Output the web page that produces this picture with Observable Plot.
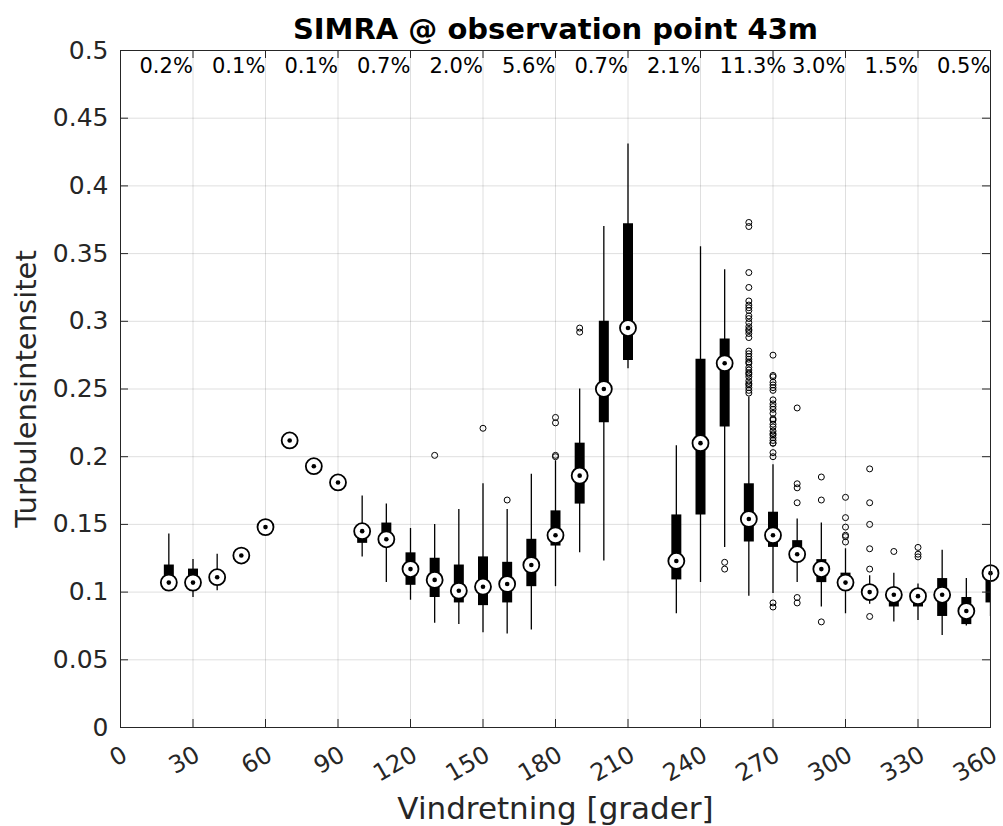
<!DOCTYPE html>
<html>
<head>
<meta charset="utf-8">
<script src="https://cdn.jsdelivr.net/npm/d3@7"></script>
<script src="https://cdn.jsdelivr.net/npm/@observablehq/plot@0.6"></script>
<style>
  html, body { margin: 0; padding: 0; background: white; }
  #chart svg { display: block; }
</style>
</head>
<body>
<div id="chart"></div>
<script>
const directions = [20,30,40,50,60,70,80,90,100,110,120,130,140,150,160,170,180,190,200,210,230,240,250,260,270,280,290,300,310,320,330,340,350,360];
const medians = [0.107,0.107,0.111,0.127,0.148,0.212,0.193,0.181,0.145,0.139,0.117,0.109,0.101,0.104,0.106,0.120,0.142,0.186,0.250,0.295,0.123,0.210,0.269,0.154,0.142,0.128,0.117,0.107,0.100,0.098,0.097,0.098,0.086,0.114];
const q1 = [0.104,0.103,0.108,null,null,null,null,null,0.136,0.135,0.105,0.096,0.092,0.090,0.092,0.104,0.134,0.165,0.225,0.271,0.109,0.157,0.222,0.137,0.133,0.123,0.107,0.103,0.097,0.089,0.089,0.082,0.076,0.092];
const q3 = [0.120,0.117,0.114,null,null,null,null,null,0.148,0.151,0.129,0.125,0.120,0.126,0.122,0.139,0.160,0.210,0.300,0.372,0.157,0.272,0.287,0.180,0.159,0.138,0.124,0.114,0.104,0.102,0.100,0.110,0.096,0.118];
const whiskerLow = [0.102,0.096,0.101,null,null,null,null,null,0.126,0.107,0.094,0.077,0.076,0.070,0.069,0.072,0.104,0.129,0.123,0.265,0.084,0.107,0.133,0.097,0.099,0.107,0.089,0.084,0.091,0.078,0.079,0.068,0.075,0.082];
const whiskerHigh = [0.143,0.124,0.128,null,null,null,null,null,0.171,0.165,0.147,0.150,0.161,0.180,0.161,0.187,0.197,0.250,0.370,0.431,0.208,0.355,0.338,0.244,0.194,0.154,0.151,0.132,0.112,0.114,0.106,0.131,0.110,0.118];

const outlierGroups = [
  [130, [0.201]],
  [150, [0.221]],
  [160, [0.168]],
  [180, [0.200, 0.201, 0.225, 0.229]],
  [190, [0.292, 0.295]],
  [250, [0.122, 0.117]],
  [260, [0.373,0.370,0.336,0.325,0.315,0.312,0.310,0.308,0.304,0.302,0.299,0.296,0.294,0.293,0.291,0.288,0.278,0.276,0.274,0.272,0.270,0.269,0.266,0.264,0.262,0.261,0.259,0.256,0.254,0.253,0.251,0.249,0.247]],
  [270, [0.275,0.260,0.259,0.255,0.253,0.251,0.249,0.242,0.239,0.237,0.235,0.232,0.228,0.227,0.224,0.222,0.219,0.217,0.216,0.214,0.212,0.210,0.210,0.203,0.200,0.092,0.089]],
  [280, [0.236, 0.180, 0.177, 0.166, 0.096, 0.092]],
  [290, [0.185, 0.168, 0.078]],
  [300, [0.170, 0.155, 0.148, 0.142, 0.141, 0.137]],
  [310, [0.191, 0.166, 0.150, 0.132, 0.117, 0.082]],
  [320, [0.130]],
  [330, [0.133, 0.128, 0.126]]
];

const sectorStarts = [0,30,60,90,120,150,180,210,240,270,300,330];
const sectorShares = ["0.2%","0.1%","0.1%","0.7%","2.0%","5.6%","0.7%","2.1%","11.3%","3.0%","1.5%","0.5%"];

const xTicks = [0,30,60,90,120,150,180,210,240,270,300,330,360];
const yTicks = [0,0.05,0.1,0.15,0.2,0.25,0.3,0.35,0.4,0.45,0.5];

const titleText = "SIMRA @ observation point 43m";
const xLabel = "Vindretning [grader]";
const yLabel = "Turbulensintensitet";

const boxes = directions.map((d, i) => ({dir: d, med: medians[i], q1: q1[i], q3: q3[i], lo: whiskerLow[i], hi: whiskerHigh[i]}));
const withBox = boxes.filter(b => b.q1 != null);
const outliers = outlierGroups.flatMap(([d, vals]) => vals.map(v => ({dir: d, value: v})));
const sectors = sectorStarts.map((s, i) => ({start: s, label: sectorShares[i]}));

const axisColor = "#262626";

const chart = Plot.plot({
  width: 1003,
  height: 826,
  marginLeft: 120,
  marginRight: 13,
  marginTop: 50,
  marginBottom: 99,
  x: {domain: [0, 360], axis: null},
  y: {domain: [0, 0.5], axis: null},
  style: {fontFamily: "DejaVu Sans", background: "white"},
  marks: [
    Plot.ruleX(xTicks, {x: d => d, stroke: axisColor, strokeOpacity: 0.15}),
    Plot.ruleY(yTicks, {y: d => d, stroke: axisColor, strokeOpacity: 0.15}),
    Plot.ruleX(withBox, {x: "dir", y1: "lo", y2: "hi", stroke: "black", strokeWidth: 1.3, clip: true}),
    Plot.ruleX(withBox, {x: "dir", y1: "q1", y2: "q3", stroke: "black", strokeWidth: 10, strokeLinecap: "butt", clip: true}),
    Plot.dot(outliers, {x: "dir", y: "value", r: 3, stroke: "black", strokeWidth: 1, fill: "none"}),
    Plot.dot(boxes, {x: "dir", y: "med", r: 8, fill: "white", stroke: "black", strokeWidth: 1.8}),
    Plot.dot(boxes, {x: "dir", y: "med", r: 2.3, fill: "black", stroke: "none"}),
    Plot.frame({stroke: axisColor, strokeWidth: 1}),
    Plot.tickY(yTicks, {y: d => d, insetRight: 862, stroke: axisColor}),
    Plot.tickY(yTicks, {y: d => d, insetLeft: 862, stroke: axisColor}),
    Plot.tickX(xTicks, {x: d => d, insetTop: 669, stroke: axisColor}),
    Plot.tickX(xTicks, {x: d => d, insetBottom: 669, stroke: axisColor}),
    Plot.text(yTicks, {y: d => d, text: d => String(+d.toFixed(2)), frameAnchor: "left", textAnchor: "end", lineAnchor: "middle", dx: -12, fontSize: 25, fill: axisColor}),
    Plot.text(xTicks, {x: d => d, text: d => String(d), frameAnchor: "bottom", textAnchor: "end", lineAnchor: "top", rotate: -30, dy: 17, fontSize: 24, fill: axisColor}),
    Plot.text(sectors, {x: "start", text: "label", frameAnchor: "top", textAnchor: "start", lineAnchor: "middle", dx: 19, dy: 16, fontSize: 21, fill: "black"}),
    Plot.text([titleText], {frameAnchor: "top", textAnchor: "middle", lineAnchor: "middle", dy: -21, fontSize: 29, fontWeight: "bold", fill: "black"}),
    Plot.text([xLabel], {frameAnchor: "bottom", textAnchor: "middle", lineAnchor: "middle", dy: 82, fontSize: 31, fill: axisColor}),
    Plot.text([yLabel], {frameAnchor: "left", textAnchor: "middle", lineAnchor: "middle", dx: -94, rotate: -90, fontSize: 29, fill: axisColor})
  ]
});
document.getElementById("chart").appendChild(chart);
</script>
</body>
</html>
